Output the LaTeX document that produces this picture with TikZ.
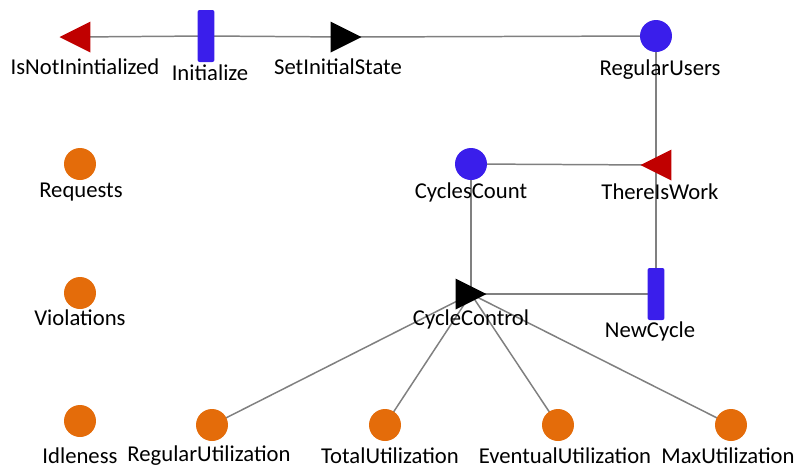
\documentclass[tikz,border=0pt]{standalone}
\usepackage{fontspec}
\setmainfont{Carlito}
\pgfdeclarelayer{background}
\pgfsetlayers{background,main}
\definecolor{placeblue}{RGB}{58,30,235}
\definecolor{placeorange}{RGB}{228,108,10}
\definecolor{arcred}{RGB}{192,0,0}
\definecolor{arcgray}{RGB}{128,128,128}

\begin{document}
\begin{tikzpicture}[x=0.02cm, y=-0.02cm,
    font=\fontsize{12.9}{15}\selectfont,
    place/.style={circle, inner sep=0pt, minimum size=0.64cm},
    trans/.style={rectangle, rounded corners=1.2pt, inner sep=0pt,
        minimum width=0.34cm, minimum height=1.04cm, fill=placeblue},
    gateright/.style={rectangle, inner sep=0pt, minimum size=0.62cm,
        path picture={\fill[#1] (path picture bounding box.north west)
            -- (path picture bounding box.east)
            -- (path picture bounding box.south west) -- cycle;}},
    gateleft/.style={rectangle, inner sep=0pt, minimum size=0.62cm,
        path picture={\fill[#1] (path picture bounding box.north east)
            -- (path picture bounding box.west)
            -- (path picture bounding box.south east) -- cycle;}},
    arc/.style={draw=arcgray, line width=0.85pt}]

    \useasboundingbox (0,0) rectangle (796,468);

    % top row
    \node[gateleft=arcred] (notinit) at (75,37) {};
    \node[trans] (init) at (206,36) {};
    \node[gateright=black] (setstate) at (346,37) {};
    \node[place, fill=placeblue] (users) at (656,36) {};

    \node (notinit-l) at (85,67) {IsNotInintialized};
    \node (init-l) at (210,73) {Initialize};
    \node (setstate-l) at (338,67) {SetInitialState};
    \node (users-l) at (660,70) {RegularUsers};

    % middle
    \node[place, fill=placeorange] (requests) at (80,164) {};
    \node[place, fill=placeblue] (cycles) at (471,164) {};
    \node[gateleft=arcred] (work) at (656,165) {};

    \node (requests-l) at (81,192) {Requests};
    \node (cycles-l) at (471,192) {CyclesCount};
    \node (work-l) at (660,192) {ThereIsWork};

    \node[place, fill=placeorange] (violations) at (80,293) {};
    \node[gateright=black] (control) at (471,294) {};
    \node[trans] (newcycle) at (656,294) {};

    \node (violations-l) at (80,318) {Violations};
    \node (control-l) at (471,319) {CycleControl};
    \node (newcycle-l) at (650,331) {NewCycle};

    % bottom row
    \node[place, fill=placeorange] (idle) at (80,421) {};
    \node[place, fill=placeorange] (regutil) at (212,425) {};
    \node[place, fill=placeorange] (totutil) at (385,425) {};
    \node[place, fill=placeorange] (evutil) at (558,425) {};
    \node[place, fill=placeorange] (maxutil) at (731,425) {};

    \node (idle-l) at (80,456) {Idleness};
    \node (regutil-l) at (209,456) {RegularUtilization};
    \node (totutil-l) at (390,456) {TotalUtilization};
    \node (evutil-l) at (565,456) {EventualUtilization};
    \node (maxutil-l) at (728,456) {MaxUtilization};

    % arcs, behind the places and transitions
    \begin{pgfonlayer}{background}
        \draw[arc] (notinit.center) -- (init.center);
        \draw[arc] (init.center) -- (setstate.center);
        \draw[arc] (setstate.center) -- (users.center);
        \draw[arc] (users.center) -- (work.center);
        \draw[arc] (work.center) -- (newcycle.center);
        \draw[arc] (work.center) -- (cycles.center);
        \draw[arc] (cycles.center) -- (control.center);
        \draw[arc] (control.center) -- (newcycle.center);
        \draw[arc] (control.center) -- (regutil.center);
        \draw[arc] (control.center) -- (totutil.center);
        \draw[arc] (control.center) -- (evutil.center);
        \draw[arc] (control.center) -- (maxutil.center);
    \end{pgfonlayer}

\end{tikzpicture}
\end{document}
